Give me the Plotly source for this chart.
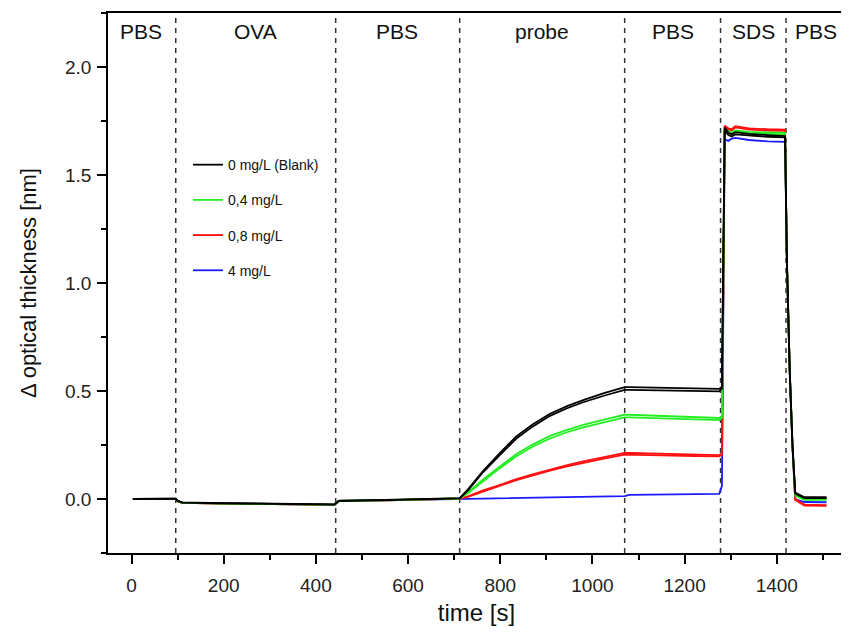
import plotly.graph_objects as go

# ---------------- data ----------------
time_s = [3, 90, 96, 100, 110, 200, 300, 440, 443, 450, 550, 650, 712,
          730, 763, 800, 835, 870, 908, 945, 980, 1025, 1070,
          1080, 1150, 1220, 1275, 1281,
          1287, 1295, 1302, 1310, 1340, 1380, 1418,
          1422, 1428, 1434, 1440, 1460, 1508]

blank_a = [0.0, 0.002, 0.002, -0.008, -0.016, -0.019, -0.021, -0.025, -0.020, -0.008, -0.004, 0.0, 0.004,
           0.045, 0.13, 0.215, 0.29, 0.345, 0.395, 0.43, 0.458, 0.49, 0.518,
           0.518, 0.515, 0.512, 0.51, 0.52,
           1.72, 1.695, 1.688, 1.698, 1.69, 1.685, 1.68,
           1.10, 0.60, 0.25, 0.03, 0.008, 0.008]
blank_b = [0.0, 0.002, 0.002, -0.009, -0.017, -0.020, -0.022, -0.026, -0.021, -0.009, -0.005, 0.0, 0.003,
           0.04, 0.125, 0.205, 0.28, 0.335, 0.385, 0.42, 0.448, 0.478, 0.505,
           0.505, 0.503, 0.50, 0.498, 0.51,
           1.705, 1.685, 1.678, 1.688, 1.682, 1.677, 1.674,
           1.10, 0.60, 0.25, 0.025, 0.004, 0.004]
c04_a = [0.0, 0.001, 0.001, -0.009, -0.017, -0.020, -0.022, -0.026, -0.021, -0.009, -0.005, -0.001, 0.003,
         0.03, 0.09, 0.152, 0.208, 0.252, 0.292, 0.32, 0.343, 0.367, 0.39,
         0.39, 0.385, 0.378, 0.375, 0.385,
         1.71, 1.702, 1.696, 1.706, 1.70, 1.697, 1.695,
         1.10, 0.60, 0.25, 0.02, 0.0, 0.0]
c04_b = [0.0, 0.001, 0.001, -0.010, -0.018, -0.021, -0.023, -0.027, -0.022, -0.010, -0.006, -0.002, 0.002,
         0.027, 0.084, 0.144, 0.198, 0.242, 0.28, 0.309, 0.332, 0.356, 0.378,
         0.378, 0.373, 0.368, 0.365, 0.375,
         1.70, 1.694, 1.69, 1.698, 1.693, 1.69, 1.688,
         1.10, 0.60, 0.25, 0.016, -0.004, -0.004]
c08_a = [0.0, 0.001, 0.001, -0.010, -0.018, -0.021, -0.023, -0.027, -0.022, -0.010, -0.006, -0.002, 0.002,
         0.012, 0.04, 0.066, 0.092, 0.114, 0.137, 0.157, 0.174, 0.193, 0.213,
         0.213, 0.21, 0.206, 0.203, 0.21,
         1.728, 1.716, 1.712, 1.726, 1.716, 1.712, 1.71,
         1.10, 0.60, 0.25, 0.0, -0.026, -0.028]
c08_b = [0.0, 0.001, 0.001, -0.010, -0.018, -0.021, -0.023, -0.027, -0.022, -0.010, -0.006, -0.002, 0.002,
         0.01, 0.036, 0.062, 0.087, 0.109, 0.131, 0.151, 0.168, 0.187, 0.205,
         0.205, 0.202, 0.199, 0.197, 0.205,
         1.72, 1.71, 1.706, 1.72, 1.71, 1.706, 1.704,
         1.10, 0.60, 0.25, -0.004, -0.03, -0.032]
c4_a = [0.0, 0.001, 0.001, -0.010, -0.018, -0.021, -0.023, -0.027, -0.022, -0.010, -0.006, -0.002, 0.0,
        0.001, 0.002, 0.003, 0.004, 0.005, 0.006, 0.008, 0.009, 0.011, 0.013,
        0.019, 0.02, 0.021, 0.024, 0.06,
        1.665, 1.658, 1.668, 1.672, 1.662, 1.656, 1.653,
        1.08, 0.58, 0.24, 0.0, -0.014, -0.015]

series_names = ["0 mg/L (Blank)", "0,4 mg/L", "0,8 mg/L", "4 mg/L"]
series_colors = ["#000000", "#22ee22", "#ff1010", "#1a1aff"]
series_reps = [[blank_a, blank_b], [c04_a, c04_b], [c08_a, c08_b], [c4_a]]

phase_bounds = [96, 443, 712, 1070, 1278, 1420]
phase_labels = ["PBS", "OVA", "PBS", "probe", "PBS", "SDS", "PBS"]
phase_label_x = [21, 270, 577, 891, 1174, 1349, 1486]

x_ticks = [0, 200, 400, 600, 800, 1000, 1200, 1400]
y_ticks = [0.0, 0.5, 1.0, 1.5, 2.0]

# ---------------- figure ----------------
fig = go.Figure()
FONT = "Liberation Sans, Arial, sans-serif"

# draw blank last so it sits on top, legend order via legendrank
draw_order = [3, 2, 1, 0]
for i in draw_order:
    for k, reps in enumerate(series_reps[i]):
        fig.add_trace(go.Scatter(
            x=time_s, y=reps, mode="lines",
            line=dict(color=series_colors[i], width=1.8),
            name=series_names[i], legendgroup=series_names[i],
            showlegend=(k == 0), legendrank=i + 1,
        ))

for xb in phase_bounds:
    fig.add_shape(type="line", x0=xb, x1=xb, y0=0, y1=1, xref="x", yref="paper",
                  line=dict(color="#333333", width=1.5, dash="5px,5px"), layer="below")

for lx, lt in zip(phase_label_x, phase_labels):
    fig.add_annotation(x=lx, y=2.165, xref="x", yref="y", text=lt, showarrow=False,
                       font=dict(family=FONT, size=21, color="#111111"))

axis_common = dict(showline=True, linecolor="#000000", linewidth=1.6, mirror=True,
                   ticks="outside", tickcolor="#000000", tickwidth=1.5, ticklen=9,
                   showgrid=False, zeroline=False, automargin=False,
                   tickfont=dict(family=FONT, size=19, color="#222222"))

fig.update_layout(
    width=849, height=632,
    margin=dict(l=100, r=12, t=5, b=87),
    paper_bgcolor="white", plot_bgcolor="white",
    showlegend=True,
    legend=dict(x=0.1085, y=0.748, xanchor="left", yanchor="top",
                font=dict(family=FONT, size=14, color="#111111"),
                bgcolor="rgba(0,0,0,0)", tracegroupgap=14, itemwidth=30),
    xaxis=dict(range=[-51, 1548], tickvals=x_ticks, ticklabelstandoff=5,
               minor=dict(dtick=100, tick0=0, ticks="outside", ticklen=5, tickcolor="#000000", tickwidth=1.5),
               title=dict(text="time [s]", font=dict(family=FONT, size=24, color="#111111"), standoff=10),
               **axis_common),
    yaxis=dict(range=[-0.25, 2.25], tickvals=y_ticks, tickformat=".1f", ticklabelstandoff=2,
               minor=dict(dtick=0.25, tick0=0, ticks="outside", ticklen=5, tickcolor="#000000", tickwidth=1.5),
               title=dict(text="Δ optical thickness [nm]", font=dict(family=FONT, size=22, color="#111111"), standoff=22),
               **axis_common),
)

fig.write_html("out.html")
